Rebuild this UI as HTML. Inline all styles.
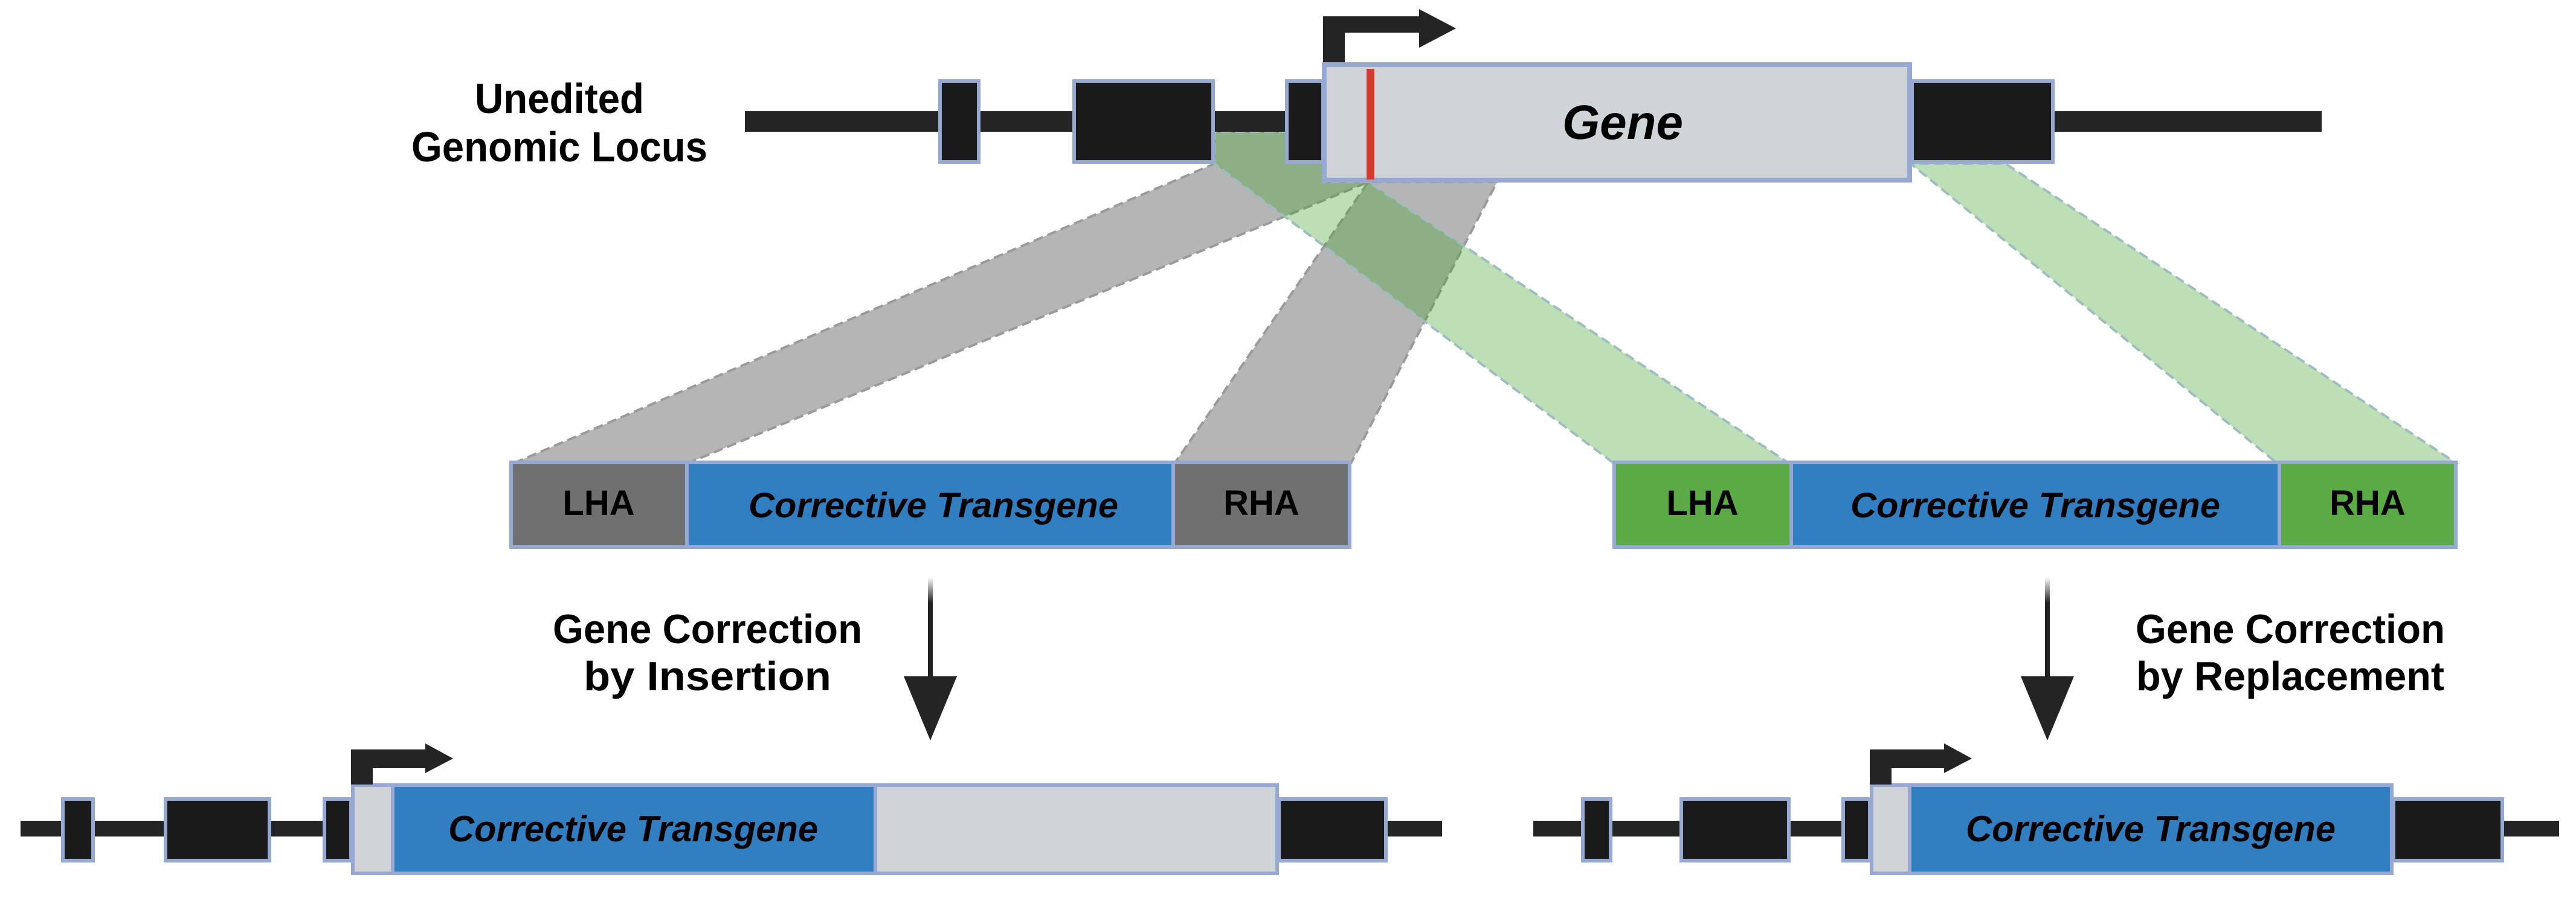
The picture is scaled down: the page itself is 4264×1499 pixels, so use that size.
<!DOCTYPE html>
<html><head><meta charset="utf-8"><style>
html,body{margin:0;padding:0;background:#fff;}
svg{display:block;}
text{font-family:"Liberation Sans",Arial,sans-serif;font-weight:bold;fill:#000;}
</style></head><body>
<svg width="4264" height="1499" viewBox="0 0 4264 1499" xmlns="http://www.w3.org/2000/svg">
<defs>
<linearGradient id="fade" x1="0" y1="0" x2="0" y2="1">
<stop offset="0" stop-color="#222" stop-opacity="0"/>
<stop offset="0.25" stop-color="#222" stop-opacity="1"/>
</linearGradient>
</defs>

<!-- homology bands -->
<g stroke-width="4" stroke-dasharray="16 8" stroke-linejoin="round">
<polygon points="849,767 1137,767 2265,301 2190,301 2190,218 2010,218 2010,271" fill="rgba(120,120,120,0.55)" stroke="#9a9a9a"/>
<polygon points="1944,767 2236,767 2478,301 2265,301" fill="rgba(120,120,120,0.55)" stroke="#9a9a9a"/>
<polygon points="2672,767 2962,767 2265,301 2190,301 2190,218 2010,218 2010,271" fill="rgba(66,164,44,0.35)" stroke="#9fbcc0"/>
<polygon points="3770,767 4067,767 3320,271 3163,271" fill="rgba(66,164,44,0.35)" stroke="#9fbcc0"/>
</g>

<!-- top locus -->
<rect x="1233" y="184" width="2610" height="34" fill="#242424"/>
<g stroke="#97a9d3" stroke-width="6" fill="#1a1a1a">
<rect x="1556" y="134" width="64" height="134"/>
<rect x="1778" y="134" width="230" height="134"/>
<rect x="2130" y="134" width="60" height="134"/>
<rect x="3165" y="134" width="233" height="134"/>
<rect x="2192" y="107" width="969" height="191" fill="#d0d4d8" stroke-width="8"/>
</g>
<rect x="2262" y="114" width="13" height="183" fill="#d13a2c"/>
<!-- top promoter arrow -->
<path d="M2190,103 L2190,27 L2349,27 L2349,15 L2410,47 L2349,79 L2349,54 L2226,54 L2226,103 Z" fill="#242424"/>
<text x="2686" y="230" font-size="80" font-style="italic" text-anchor="middle">Gene</text>
<text x="926" y="187" font-size="70" text-anchor="middle" textLength="280" lengthAdjust="spacingAndGlyphs">Unedited</text>
<text x="926" y="267" font-size="70" text-anchor="middle" textLength="490" lengthAdjust="spacingAndGlyphs">Genomic Locus</text>

<!-- middle blocks -->
<g stroke="#97a9d3" stroke-width="6">
<rect x="846" y="765" width="291" height="140" fill="#707070"/>
<rect x="1137" y="765" width="805" height="140" fill="#317fc1"/>
<rect x="1942" y="765" width="292" height="140" fill="#707070"/>
<rect x="2672" y="765" width="293" height="140" fill="#5aab46"/>
<rect x="2965" y="765" width="808" height="140" fill="#317fc1"/>
<rect x="3773" y="765" width="292" height="140" fill="#5aab46"/>
</g>
<g font-size="58" text-anchor="middle">
<text x="991" y="852">LHA</text>
<text x="2088" y="852">RHA</text>
<text x="2818" y="852">LHA</text>
<text x="3919" y="852">RHA</text>
<text x="1545" y="856" font-style="italic" textLength="612" lengthAdjust="spacingAndGlyphs">Corrective Transgene</text>
<text x="3369" y="856" font-style="italic" textLength="612" lengthAdjust="spacingAndGlyphs">Corrective Transgene</text>
</g>

<!-- down arrows -->
<rect x="1536" y="955" width="8" height="170" fill="url(#fade)"/>
<polygon points="1496,1119 1584,1119 1540,1225" fill="#242424"/>
<rect x="3385" y="955" width="8" height="170" fill="url(#fade)"/>
<polygon points="3345,1119 3433,1119 3389,1225" fill="#242424"/>

<g font-size="68" text-anchor="middle">
<text x="1171" y="1064" textLength="512" lengthAdjust="spacingAndGlyphs">Gene Correction</text>
<text x="1171" y="1142" textLength="410" lengthAdjust="spacingAndGlyphs">by Insertion</text>
<text x="3791" y="1064" textLength="512" lengthAdjust="spacingAndGlyphs">Gene Correction</text>
<text x="3791" y="1142" textLength="510" lengthAdjust="spacingAndGlyphs">by Replacement</text>
</g>

<!-- bottom left locus -->
<rect x="34" y="1358" width="2353" height="26" fill="#242424"/>
<g stroke="#97a9d3" stroke-width="6" fill="#1a1a1a">
<rect x="104" y="1322" width="50" height="102"/>
<rect x="274" y="1322" width="172" height="102"/>
<rect x="537" y="1322" width="44" height="102"/>
<rect x="2117" y="1322" width="177" height="102"/>
<rect x="584" y="1299" width="1530" height="146" fill="#d0d4d8"/>
<rect x="650" y="1299" width="799" height="146" fill="#317fc1"/>
</g>
<path d="M581,1298 L581,1240 L704,1240 L704,1230 L750,1255 L704,1279 L704,1271 L617,1271 L617,1298 Z" fill="#242424"/>
<text x="1048" y="1392" font-size="60" font-style="italic" text-anchor="middle" textLength="612" lengthAdjust="spacingAndGlyphs">Corrective Transgene</text>

<!-- bottom right locus -->
<rect x="2538" y="1358" width="1698" height="26" fill="#242424"/>
<g stroke="#97a9d3" stroke-width="6" fill="#1a1a1a">
<rect x="2620" y="1322" width="46" height="102"/>
<rect x="2783" y="1322" width="178" height="102"/>
<rect x="3051" y="1322" width="44" height="102"/>
<rect x="3962" y="1322" width="180" height="102"/>
<rect x="3098" y="1299" width="861" height="146" fill="#d0d4d8"/>
<rect x="3161" y="1299" width="798" height="146" fill="#317fc1"/>
</g>
<path d="M3095,1298 L3095,1240 L3218,1240 L3218,1230 L3264,1255 L3218,1279 L3218,1271 L3131,1271 L3131,1298 Z" fill="#242424"/>
<text x="3560" y="1392" font-size="60" font-style="italic" text-anchor="middle" textLength="612" lengthAdjust="spacingAndGlyphs">Corrective Transgene</text>
</svg>
</body></html>
